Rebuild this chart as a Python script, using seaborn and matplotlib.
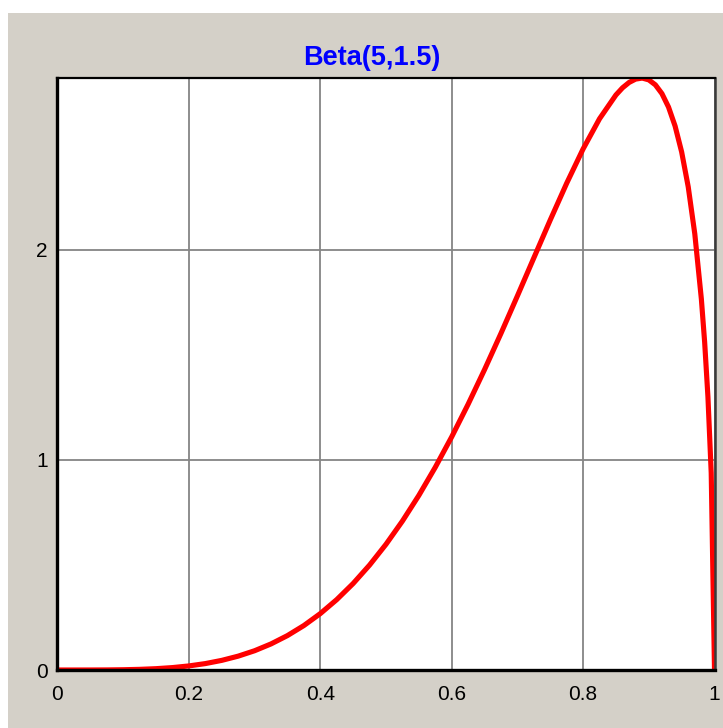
import matplotlib
matplotlib.use("Agg")
import matplotlib.pyplot as plt
from matplotlib.patches import Rectangle
from matplotlib.ticker import MultipleLocator, FixedLocator
import seaborn as sns
import pandas as pd

# Density curve of Beta(5, 1.5), sampled along x
x_vals = [0.0, 0.025, 0.05, 0.075, 0.1, 0.125, 0.15, 0.175, 0.2, 0.225, 0.25,
          0.275, 0.3, 0.325, 0.35, 0.375, 0.4, 0.425, 0.45, 0.475, 0.5,
          0.525, 0.55, 0.575, 0.6, 0.625, 0.65, 0.675, 0.7, 0.725, 0.75,
          0.775, 0.8, 0.825, 0.85, 0.86, 0.87, 0.88, 0.89, 0.9, 0.91, 0.92,
          0.93, 0.94, 0.95, 0.96, 0.97, 0.98, 0.985, 0.99, 0.995, 1.0]
density = [0.0, 0.0, 0.0001, 0.0004, 0.0013, 0.0031, 0.0063, 0.0115, 0.0194, 0.0305, 0.0458,
           0.0659, 0.0917, 0.1241, 0.1638, 0.2116, 0.2684, 0.3349, 0.4116, 0.4993, 0.5982,
           0.7087, 0.8308, 0.9646, 1.1094, 1.2647, 1.4294, 1.6018, 1.7800, 1.9609, 2.1413,
           2.3161, 2.4795, 2.6230, 2.7364, 2.7703, 2.7958, 2.8118, 2.8166, 2.8081, 2.7845, 2.7426,
           2.6788, 2.5885, 2.4651, 2.2992, 2.0755, 1.7655, 1.5604, 1.3002, 0.9380, 0.0]

title_text = "Beta(5,1.5)"
x_major = [0, 0.2, 0.4, 0.6, 0.8, 1.0]
x_labels = ["0", "0.2", "0.4", "0.6", "0.8", "1"]
y_major = [0, 1, 2]
y_labels = ["0", "1", "2"]

df = pd.DataFrame({"x": x_vals, "density": density})

sns.set_style("white")
plt.rcParams["font.family"] = ["Liberation Sans", "DejaVu Sans"]

W, H = 723, 728
fig = plt.figure(figsize=(W / 100, H / 100), dpi=100, facecolor="white")
panel = "#d4d0c8"
fig.patches.append(Rectangle((8 / W, 0), 1 - 8 / W, 1 - 13 / H,
                             transform=fig.transFigure, facecolor=panel,
                             edgecolor="none", zorder=-10))

ax = fig.add_axes([57.5 / W, 58 / H, 657 / W, 592 / H])
ax.set_facecolor("white")

sns.lineplot(data=df, x="x", y="density", ax=ax, color="#ff0000",
             linewidth=3.7, zorder=5)

ax.set_xlim(0, 1)
ax.set_ylim(0, 2.817)
ax.set_xlabel("")
ax.set_ylabel("")

ax.xaxis.set_major_locator(FixedLocator(x_major))
ax.set_xticklabels(x_labels)
ax.xaxis.set_minor_locator(MultipleLocator(0.05))
ax.yaxis.set_major_locator(FixedLocator(y_major))
ax.set_yticklabels(y_labels)
ax.yaxis.set_minor_locator(MultipleLocator(0.25))

ax.grid(True, which="major", color="#858585", linewidth=1.3, zorder=1)
ax.set_axisbelow(True)

ax.tick_params(which="both", direction="out", color="#808080", width=1.1,
               labelsize=15, labelcolor="black")
ax.tick_params(which="major", length=6)
ax.tick_params(which="minor", length=4)
ax.tick_params(axis="x", which="major", pad=4.5)
ax.tick_params(axis="y", which="major", pad=1)

for side, lw, col in [("left", 2.4, "black"), ("bottom", 2.4, "black"),
                      ("top", 1.6, "black"), ("right", 1.8, "#3a3a3a")]:
    ax.spines[side].set_visible(True)
    ax.spines[side].set_linewidth(lw)
    ax.spines[side].set_color(col)
    ax.spines[side].set_zorder(6)

fig.text(372 / W, 1 - 58 / H, title_text, ha="center", va="center",
         color="#0000ff", fontsize=19.5, fontweight="bold",
         family=["Liberation Sans", "DejaVu Sans"])

fig.savefig("out.png", dpi=100, facecolor=fig.get_facecolor())
